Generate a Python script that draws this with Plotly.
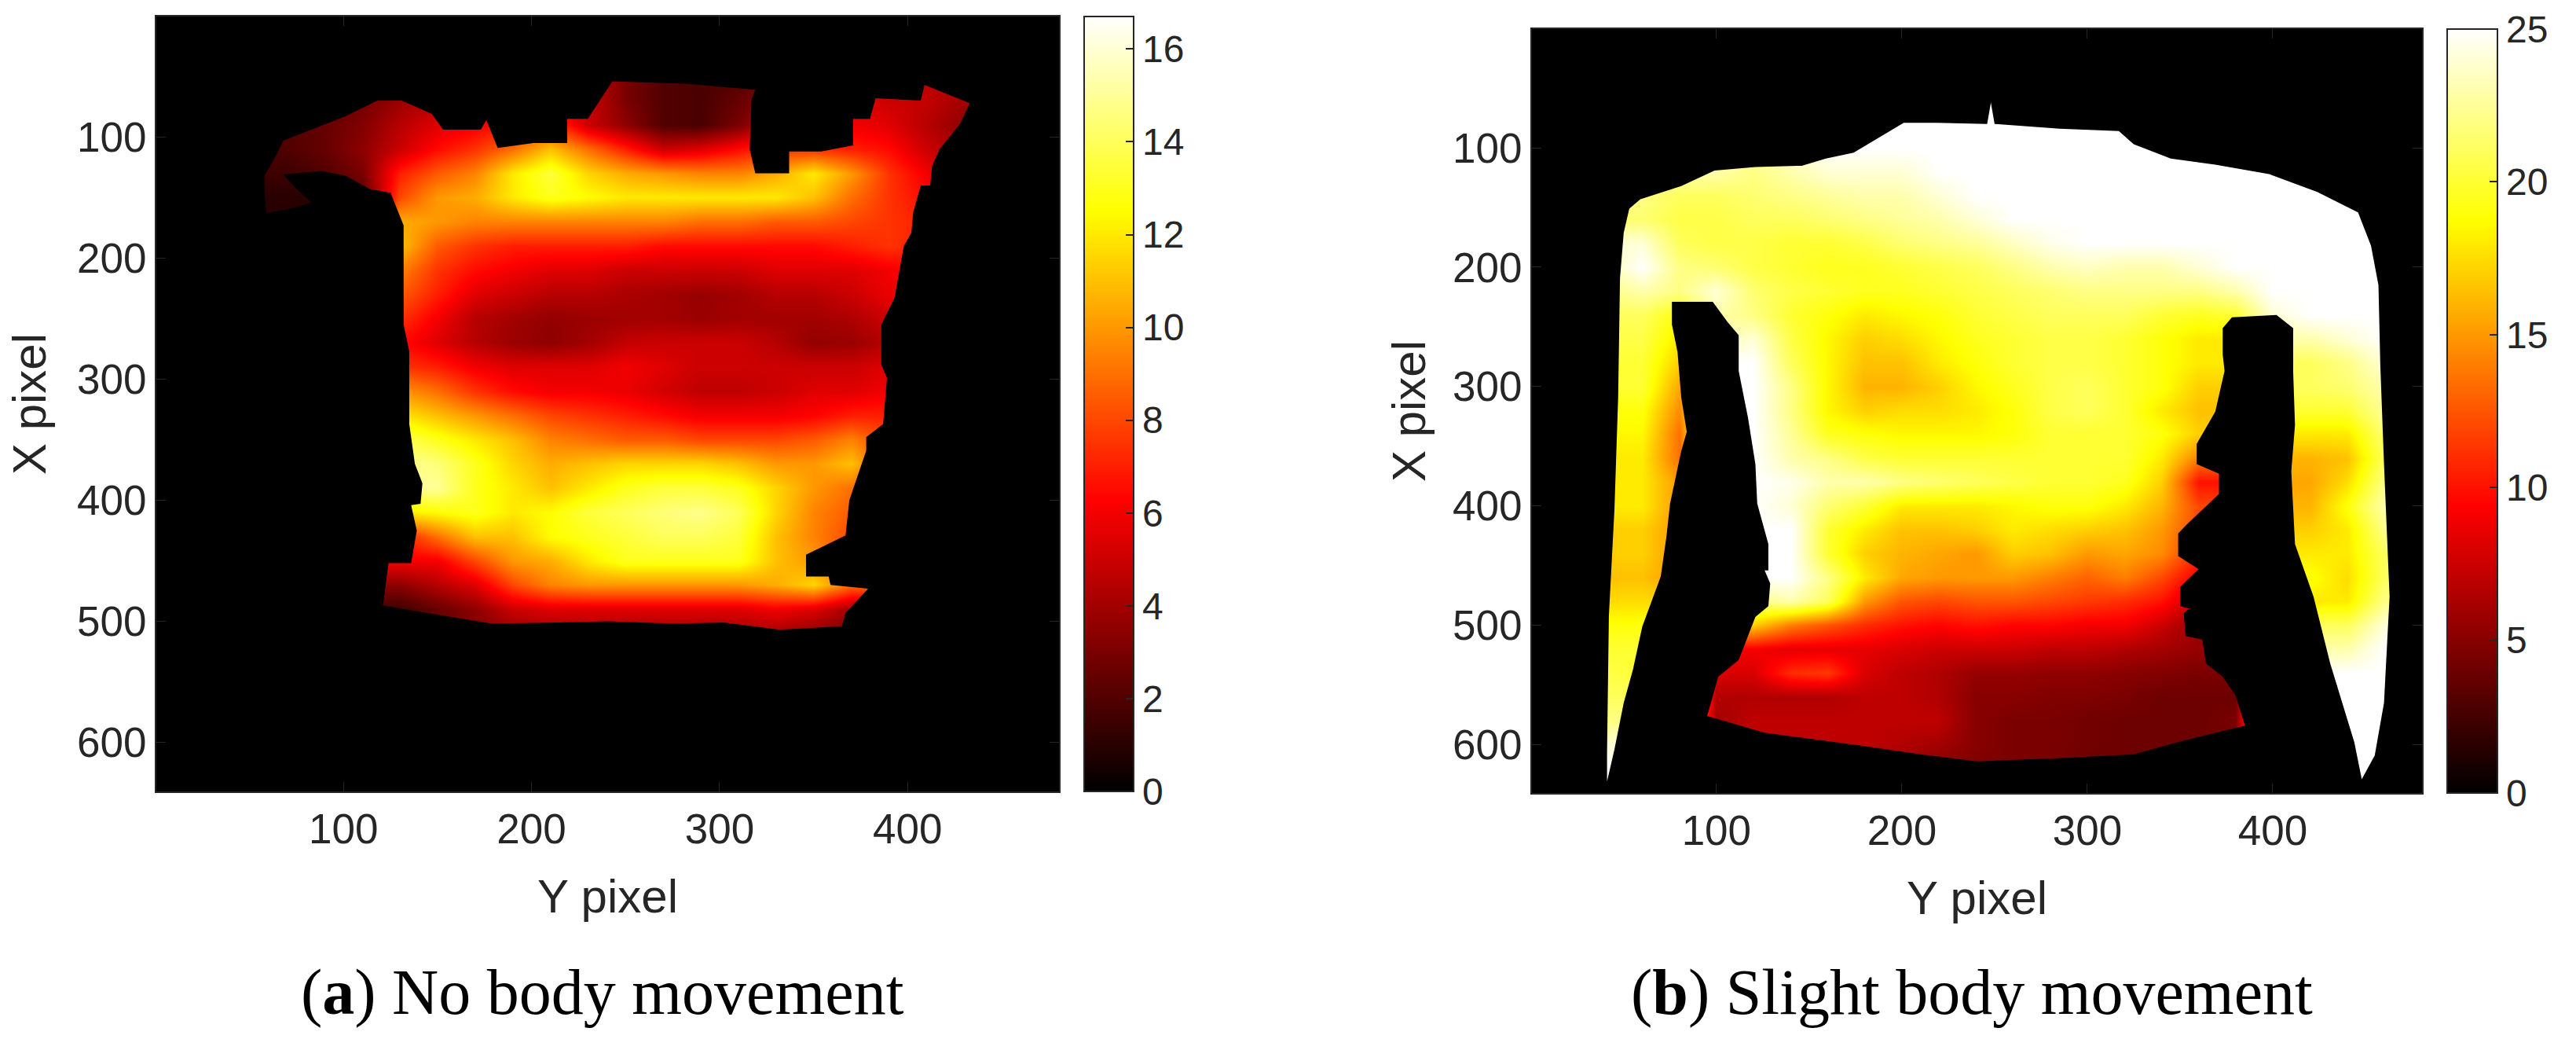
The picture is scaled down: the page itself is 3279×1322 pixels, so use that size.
import plotly.graph_objects as go

# colormap (MATLAB hot)
hot = [[0, '#000000'], [0.375, '#ff0000'], [0.75, '#ffff00'], [1, '#ffffff']]

# ---- panel a: values, estimated on a coarse grid
xs_a = [50, 70, 90, 110, 130, 150, 170, 190, 210, 230, 250, 270, 290, 310, 330, 350, 370, 390, 410, 430, 450]
ys_a = [50, 70, 90, 110, 130, 150, 170, 190, 210, 230, 250, 270, 290, 310, 330, 350, 370, 390, 410, 430, 450, 470, 490, 510]
z_a = [
    [1, 1, 2, 2, 3, 3, 4, 4, 4, 5, 3, 2, 1.8, 2, 3, 4, 5, 4.5, 4.5, 4, 4],
    [1, 1.5, 2, 2.8, 3.8, 4.5, 5, 5, 5, 5, 3, 2, 1.8, 2.5, 3.5, 4.5, 5.5, 5, 4.8, 4, 4],
    [1.5, 2, 2.5, 3.2, 4.5, 5.5, 6, 7, 8, 5, 3.5, 2, 1.8, 3, 5, 6, 6, 5.5, 4.5, 3.5, 3],
    [1.5, 2, 2.5, 3.5, 5, 6.5, 7.5, 9, 11, 9, 7, 5, 5.5, 6.5, 7.5, 7.5, 7, 6.5, 5, 4, 3],
    [1.5, 1.5, 2, 3, 7, 8.5, 9.5, 12, 13.5, 11.5, 10.5, 10, 9.5, 9.5, 10.5, 12, 10, 7.5, 6, 4, 3],
    [1, 1, 1, 2, 8, 10, 10.5, 12, 13, 12.5, 12, 12, 12, 12, 12, 11, 9, 7.5, 6.5, 6, 6],
    [1, 1, 1, 5, 10.5, 10, 9.5, 9.5, 9.5, 9.5, 9.5, 9.5, 9, 9, 8.5, 8.5, 8, 7.5, 7, 7, 7],
    [1, 1, 1, 8, 11, 8.5, 7.5, 7, 7, 7, 7, 6.5, 6.5, 6.5, 6.5, 6.5, 7, 7.5, 7, 7, 7],
    [1, 1, 1, 8, 9.5, 7.5, 6.5, 6, 5.5, 5.5, 5, 5, 5, 5, 5.5, 5.5, 5.5, 6, 6.5, 6.5, 6.5],
    [1, 1, 1, 8, 8.5, 7, 5.5, 5, 4.5, 4.5, 4.2, 4, 3.7, 4, 4.5, 4.5, 5, 5.8, 5.8, 5.8, 5.8],
    [1, 1, 1, 7.5, 7.5, 6, 4.5, 4, 3.6, 3.8, 4, 4, 3.8, 4, 4, 4, 4.3, 5, 5, 5, 5],
    [1, 1, 1, 6.5, 6.5, 5.5, 4.5, 3.8, 3.5, 4, 4.8, 5, 5, 5, 4.5, 3.6, 3.8, 4.5, 4.5, 4.5, 4.5],
    [1, 1, 1, 7.5, 7.5, 7, 6, 5.5, 5.5, 5.5, 6, 5.5, 5, 5, 5, 5, 5, 5.5, 5.5, 5.5, 5.5],
    [1, 1, 1, 10, 10, 9, 7.5, 6.5, 6, 6, 5.8, 5.2, 4.7, 4.7, 5, 5.5, 5.5, 6, 6, 6, 6],
    [1, 1, 1, 12, 12, 11, 10, 9, 8, 7.5, 7, 6.5, 6, 6, 6, 6.3, 7, 7, 7, 7, 7],
    [1, 1, 1, 14, 14, 13, 12, 11, 9.5, 9, 8.5, 8.5, 8, 8, 8, 8.5, 9.5, 8, 8, 8, 8],
    [1, 1, 1, 15, 15, 14.5, 13, 11.5, 10.5, 11, 11.5, 11.5, 11.5, 11, 10, 10, 11, 8, 8, 8, 8],
    [1, 1, 1, 15, 15, 15, 13, 12, 11, 12, 13, 13.5, 13.5, 13, 11.5, 10, 9, 8, 8, 8, 8],
    [1, 1, 1, 12, 12, 12.5, 13, 12, 12.5, 13.5, 14, 14.5, 14.8, 14, 11.5, 9.5, 8.5, 8, 8, 8, 8],
    [1, 1, 1, 7, 7, 9, 11, 11, 12.5, 13, 13.5, 14, 14, 13.5, 11, 9.5, 8, 8, 8, 8, 8],
    [1, 1, 1, 6, 6, 6, 8, 10, 10.5, 12, 13, 13, 13, 13, 11, 10, 8, 8, 8, 8, 8],
    [1, 1, 1, 3.5, 3.5, 4.5, 5.5, 8, 9.5, 10, 10, 10, 10, 10, 10.5, 11.5, 9, 9, 9, 9, 9],
    [1, 1, 1, 1.5, 1.5, 2.5, 3.5, 5, 5.5, 5.5, 5.5, 5.5, 5.5, 5.5, 6, 5.5, 4, 4, 4, 4, 4],
    [1, 1, 1, 1.5, 1.5, 2.5, 3, 3.5, 4, 4, 4, 4, 4, 4, 4, 3.5, 3, 3, 3, 3, 3],
]
# body outline
outline_x_a = [59, 75, 83, 75, 68, 88, 101, 114, 125, 129, 132, 132, 135, 135, 138, 142, 141, 136, 139, 136, 124, 121, 145, 179, 214, 241, 276, 302, 332, 365, 367, 379, 359, 358, 346, 346, 367, 369, 378, 378, 387, 389, 386, 386, 393, 398, 402, 403, 407, 412, 413, 417, 428, 433, 409, 407, 383, 380, 371, 371, 354, 337, 337, 319, 316, 317, 319, 282, 243, 230, 219, 219, 201, 182, 176, 173, 153, 147, 131, 118, 101, 88, 68, 64, 58, 58]
outline_y_a = [163, 158, 154, 143, 131, 128, 132, 143, 146, 162, 173, 255, 277, 337, 370, 386, 403, 404, 425, 452, 452, 487, 493, 502, 501, 500, 502, 501, 507, 504, 493, 473, 470, 463, 463, 445, 429, 400, 359, 348, 337, 299, 288, 255, 233, 190, 179, 162, 140, 140, 124, 110, 89, 72, 57, 70, 68, 85, 85, 107, 112, 112, 130, 130, 110, 69, 61, 56, 54, 85, 85, 105, 105, 109, 86, 94, 94, 81, 70, 70, 83, 91, 103, 116, 132, 146]

# ---- panel b
xs_b = [40, 60, 80, 100, 120, 140, 160, 180, 200, 220, 240, 260, 280, 300, 320, 340, 360, 380, 400, 420, 440, 460]
ys_b = [60, 80, 100, 120, 140, 160, 180, 200, 220, 240, 260, 280, 300, 320, 340, 360, 380, 400, 420, 440, 460, 480, 500, 520, 540, 560, 580, 600, 620, 640]
z_b = [
    [23, 23, 23, 23, 23, 24, 25, 25, 25, 25, 25, 25, 25, 25, 25, 25, 25, 25, 25, 25, 25, 25],
    [23, 23, 23, 23, 23, 24, 25, 25, 25, 25, 25, 25, 25, 25, 25, 25, 25, 25, 25, 25, 25, 25],
    [23, 23, 23, 23, 23, 24, 25, 25, 25, 25, 25, 25, 25, 25, 25, 25, 25, 25, 25, 25, 25, 25],
    [23, 23, 23, 23, 22, 23, 24, 24, 24, 25, 25, 25, 25, 25, 25, 25, 25, 25, 25, 25, 25, 25],
    [22, 22, 21, 21, 21.5, 22, 22.5, 23, 23, 24, 25, 25, 25, 25, 25, 25, 25, 25, 25, 25, 25, 25],
    [21.5, 21.5, 20.5, 20.5, 21, 21, 21.5, 22, 22.5, 23, 24, 25, 25, 25, 25, 25, 25, 25, 25, 25, 25, 25],
    [24, 24, 21, 20.5, 20.5, 20, 20, 20.5, 21.5, 22, 22.5, 23.5, 24.5, 25, 25, 25, 25, 25, 25, 25, 25, 25],
    [23, 25, 22, 21.5, 20.5, 20, 19.5, 19.5, 20, 20.5, 21, 22, 23, 23.5, 23, 23, 24, 25, 25, 25, 25, 25],
    [22, 23, 22, 24, 21.5, 20.5, 20, 19.5, 19.5, 20, 20.5, 21, 21.5, 22, 22, 22, 22, 23, 25, 25, 25, 25],
    [21, 21, 19, 23, 22, 20, 19, 18, 18.5, 19, 20, 20.5, 21, 21, 21, 20, 19.5, 20, 24, 25, 25, 25],
    [20.5, 20.5, 18, 23, 24, 20.5, 18.5, 17, 17.5, 18.5, 19.5, 20, 20.5, 20.5, 20, 19, 18, 18, 23, 23, 24, 25],
    [20, 20, 17, 25, 25, 21, 18.5, 16.5, 16.5, 18, 19, 20, 20.5, 20.5, 20, 19, 18, 18, 21, 21, 22, 24],
    [20, 20, 15.5, 25, 25, 22, 18.5, 16, 16, 17, 18.5, 19.5, 20.5, 21, 20, 19, 17, 17, 21, 21, 21.5, 23],
    [19, 19, 14.5, 25, 25, 22, 18.5, 17, 17.5, 17.5, 18, 19, 20.5, 21, 20, 18, 16.5, 16.5, 20, 20, 20, 22.5],
    [18.5, 18.5, 13.5, 25, 25, 22.5, 19.5, 19, 18.5, 18.5, 18.5, 19, 20, 20, 20, 19, 17, 17, 18, 18, 18, 21.5],
    [18, 18, 13.5, 25, 25, 23, 22, 20.5, 20, 20, 20, 20, 20, 20, 20, 18, 14, 14, 16, 16, 16.5, 21],
    [18, 18, 15, 25, 25, 24.5, 23, 23, 22, 21.5, 21, 20.5, 20, 20, 19.5, 17, 10, 10, 15.5, 15.5, 17.5, 22],
    [18, 18, 15, 25, 25, 24, 21.5, 20, 18, 18, 18, 18.5, 19, 19, 18, 16, 12, 12, 16, 16, 19, 23],
    [17, 17, 15, 25, 25, 25, 20, 18, 16.5, 16.5, 17, 18, 17.5, 17, 16.5, 15, 12, 12, 17, 17, 18, 22],
    [17, 17, 15, 25, 25, 25, 20, 17, 16, 15.5, 15, 17, 16.5, 15, 15.5, 14.5, 11, 11, 18, 18, 18, 21],
    [16.5, 16.5, 15, 25, 25, 25, 22, 18, 15.5, 15, 15, 15, 14, 13, 14, 12, 9, 9, 19, 19, 17.5, 21],
    [17.5, 17.5, 17, 22, 22, 23, 21, 15, 12.5, 12, 12.5, 12.5, 12, 11.5, 11, 10, 7, 7, 18, 18, 18, 22],
    [19, 19, 19, 17, 17, 14, 12.5, 11, 10, 9.5, 10, 9.5, 9.5, 9, 9, 7.5, 5.5, 5.5, 21, 21, 21, 24],
    [20, 20, 20, 9, 9, 8.5, 8.5, 8.5, 8, 7.5, 7.5, 7.5, 7, 7, 6.5, 6, 5.5, 5.5, 23, 23, 23, 25],
    [20.5, 20, 20, 8, 8, 11, 11.5, 8, 7, 6.5, 5.5, 5.5, 5.3, 5.3, 5, 4.8, 4.5, 4.5, 25, 25, 25, 25],
    [21, 21, 21, 6.5, 6.5, 6.5, 6.5, 7, 7, 6.5, 5, 5, 4.7, 4.7, 4.5, 4, 4, 4, 25, 25, 25, 25],
    [22, 22, 22, 6, 7, 7, 7, 7, 7, 7, 5, 4.5, 4.5, 4.2, 4, 4, 4, 4.5, 25, 25, 25, 25],
    [24, 24, 24, 7, 7, 7, 7, 7, 6.5, 6, 5, 4.5, 4.5, 4.2, 4, 4, 4, 4, 25, 25, 25, 25],
    [25, 25, 25, 6, 6, 6, 6, 6, 6, 5, 4.5, 4.5, 4.5, 4, 4, 4, 4, 4, 25, 25, 25, 25],
    [25, 25, 25, 6, 6, 6, 6, 6, 6, 5, 4.5, 4.5, 4.5, 4, 4, 4, 4, 4, 25, 25, 25, 25],
]
outline_x_b = [53, 50, 48, 47, 45, 42, 41, 41, 45, 50, 55, 60, 70, 73, 75, 81, 84, 81, 79, 76, 76, 98, 106, 112, 112, 117, 121, 122, 128, 128, 126, 129, 128, 121, 112, 101, 95, 126, 179, 210, 241, 289, 325, 351, 385, 380, 373, 364, 362, 353, 352, 355, 350, 350, 360, 349, 349, 354, 371, 371, 359, 359, 369, 374, 373, 373, 378, 402, 411, 411, 412, 410, 412, 422, 431, 444, 448, 455, 460, 463, 460, 458, 457, 453, 446, 424, 398, 369, 345, 325, 317, 285, 250, 248, 246, 219, 201, 188, 174, 159, 146, 121, 99, 81, 59]
outline_y_b = [151, 171, 209, 309, 403, 492, 607, 631, 604, 565, 537, 501, 459, 426, 398, 354, 338, 309, 271, 248, 229, 229, 246, 257, 287, 326, 365, 398, 432, 454, 454, 465, 484, 493, 529, 543, 576, 590, 601, 608, 614, 611, 608, 597, 584, 559, 543, 532, 512, 509, 490, 486, 484, 468, 453, 442, 423, 415, 390, 373, 365, 348, 321, 287, 273, 251, 242, 240, 251, 287, 332, 371, 432, 476, 532, 598, 629, 609, 565, 476, 365, 282, 215, 182, 154, 137, 122, 114, 109, 97, 86, 84, 80, 62, 80, 79, 79, 91, 104, 109, 115, 116, 119, 132, 143]

# axis limits and ticks
x_range = [0.5, 480.5]
y_range = [640.5, 0.5]
xticks = [100, 200, 300, 400]
yticks = [100, 200, 300, 400, 500, 600]
cticks_a = [0, 2, 4, 6, 8, 10, 12, 14, 16]
cticks_b = [0, 5, 10, 15, 20, 25]
zmax_a = 16.7
zmax_b = 25

W, H = 3279, 1322
ink = '#262626'
tick_font = dict(family='Liberation Sans', size=53, color=ink)
title_font = dict(family='Liberation Sans', size=60, color=ink)


def mask_xy(ox, oy):
    # black everywhere outside the body: outer box one way, outline the other
    mx = [x_range[0], x_range[1], x_range[1], x_range[0], x_range[0], None] + ox + [ox[0]]
    my = [y_range[1], y_range[1], y_range[0], y_range[0], y_range[1], None] + oy + [oy[0]]
    return mx, my


def cbar(left, right, top, bottom, vals):
    return dict(x=left / W, xanchor='left', xpad=0, thicknessmode='pixels', thickness=right - left,
                y=1 - bottom / H, yanchor='bottom', ypad=0, lenmode='fraction', len=(bottom - top) / H,
                tickvals=vals, ticks='inside', ticklen=11, tickwidth=2, tickcolor=ink,
                outlinecolor=ink, outlinewidth=2,
                tickfont=dict(family='Liberation Sans', size=48, color=ink))


fig = go.Figure()
fig.add_trace(go.Heatmap(x=xs_a, y=ys_a, z=z_a, zmin=0, zmax=zmax_a, zsmooth='best', colorscale=hot,
                         xaxis='x', yaxis='y', colorbar=cbar(1380, 1443, 21, 1007, cticks_a)))
mx, my = mask_xy(outline_x_a, outline_y_a)
fig.add_trace(go.Scatter(x=mx, y=my, mode='lines', line=dict(width=0), fill='toself', fillcolor='black',
                         hoverinfo='skip', showlegend=False, xaxis='x', yaxis='y'))
fig.add_trace(go.Heatmap(x=xs_b, y=ys_b, z=z_b, zmin=0, zmax=zmax_b, zsmooth='best', colorscale=hot,
                         xaxis='x2', yaxis='y2', colorbar=cbar(3115, 3179, 37, 1009, cticks_b)))
mx, my = mask_xy(outline_x_b, outline_y_b)
fig.add_trace(go.Scatter(x=mx, y=my, mode='lines', line=dict(width=0), fill='toself', fillcolor='black',
                         hoverinfo='skip', showlegend=False, xaxis='x2', yaxis='y2'))

ax = dict(showline=True, linecolor=ink, linewidth=2, mirror='ticks', ticks='inside', ticklen=12, tickwidth=1,
          tickcolor=ink, showgrid=False, zeroline=False, tickfont=tick_font, title_font=title_font)
fig.update_layout(
    width=W, height=H, margin=dict(l=0, r=0, t=0, b=0), paper_bgcolor='white', plot_bgcolor='black',
    showlegend=False,
    xaxis=dict(ax, domain=[199 / W, 1348 / W], range=x_range, tickvals=xticks, title=dict(text='Y pixel', standoff=36), anchor='y'),
    yaxis=dict(ax, domain=[1 - 1007 / H, 1 - 21 / H], range=y_range, tickvals=yticks, title=dict(text='X pixel', standoff=20), anchor='x'),
    xaxis2=dict(ax, domain=[1950 / W, 3083 / W], range=x_range, tickvals=xticks, title=dict(text='Y pixel', standoff=36), anchor='y2'),
    yaxis2=dict(ax, domain=[1 - 1009 / H, 1 - 37 / H], range=y_range, tickvals=yticks, title=dict(text='X pixel', standoff=15), anchor='x2'),
)
caption_font = dict(family='Liberation Serif', size=82, color='black')
fig.add_annotation(x=767 / W, y=1 - 1262 / H, xref='paper', yref='paper', xanchor='center', yanchor='middle',
                   showarrow=False, font=caption_font, text='(<b>a</b>) No body movement')
fig.add_annotation(x=2510 / W, y=1 - 1262 / H, xref='paper', yref='paper', xanchor='center', yanchor='middle',
                   showarrow=False, font=caption_font, text='(<b>b</b>) Slight body movement')

fig.write_html("out.html", config=dict(displayModeBar=False), post_script="document.body.style.margin='0';")
